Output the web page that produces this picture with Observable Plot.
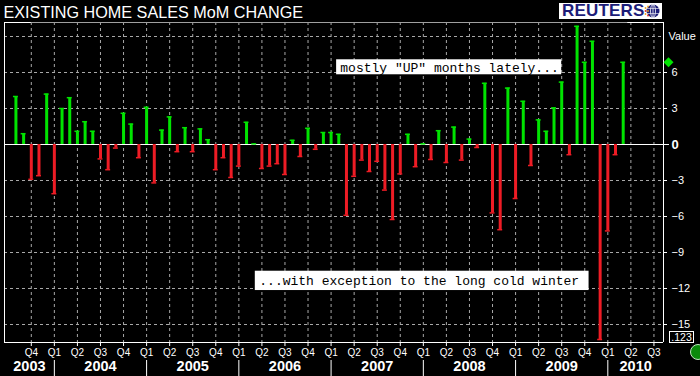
<!DOCTYPE html>
<html><head><meta charset="utf-8">
<script src="https://cdn.jsdelivr.net/npm/d3@7"></script>
<script src="https://cdn.jsdelivr.net/npm/@observablehq/plot@0.6"></script>
<style>
html,body{margin:0;padding:0;background:#000;}
#wrap{position:relative;width:700px;height:376px;overflow:hidden;background:#000;font-family:"Liberation Sans",Arial,sans-serif;}
#logo{position:absolute;left:559px;top:3px;width:103px;height:16px;background:#fff;}
#logo span{position:absolute;left:3px;top:-1px;font:bold 17px/18px "Liberation Sans",Arial,sans-serif;color:#1c1c78;letter-spacing:0.2px;}
#logo svg{position:absolute;left:85px;top:1px;}
#tag{position:absolute;left:669px;top:331px;width:23px;height:10px;border:1px solid #fff;color:#fff;font:10.5px/10px "Liberation Sans",Arial,sans-serif;text-align:center;}
#dot{position:absolute;left:690px;top:344px;width:14px;height:14px;border-radius:50%;background:#0b8a0b;border:1px solid #bfe8bf;}
</style></head><body><div id="wrap"></div>
<script>
const title = "EXISTING HOME SALES MoM CHANGE";
const firstMonth = "2003-08";
// month-on-month % change, Aug 2003 .. Mar 2010
const values = [
  4.0, 0.9, -2.9, -2.6, 4.2,
  -4.1, 3.0, 3.9, 1.1, 1.9, 1.1, -1.2, -2.1, -0.3, 2.6, 1.7, -1.1,
  3.1, -3.2, 1.2, 2.3, -0.6, 1.4, -0.6, 1.3, 0.4, -2.1, -1.1, -2.75,
  -1.8, 1.85, 0.05, -2.0, -1.8, -1.6, -2.5, 0.35, -1.0, 1.35, -0.4, 1.0,
  1.0, 0.85, -5.9, -2.65, -1.3, -2.25, -1.4, -3.8, -6.25, -2.45, 0.85, -1.85,
  0.05, -1.25, 1.15, -1.5, 1.45, -1.3, 0.45, -0.25, 5.1, -5.7, -7.1, 4.7,
  -4.5, 3.6, -1.75, 2.05, 1.1, 3.05, 5.2, -0.85, 9.85, 6.85, 8.6, -16.25,
  -7.2, -0.85, 6.85
];
const yTicks = [-15, -12, -9, -6, -3, 3, 6];
const zeroTick = [0];
const gridValues = [-15, -12, -9, -6, -3, 3, 6, 9];
const quarterNames = ["Q1", "Q2", "Q3", "Q4"];
const years = [2003, 2004, 2005, 2006, 2007, 2008, 2009, 2010];
const noteUp = ['mostly "UP" months lately...'];
const noteDown = ['...with exception to the long cold winter'];
const valueLabel = ["Value"];
const tagLabel = ".123";

const GREEN = "#00e400", RED = "#ee1c25";
const monthIndex = s => { const [y, m] = s.split("-").map(Number); return (y - 2003) * 12 + (m - 1); };
const start = monthIndex(firstMonth);
const data = values.map((v, k) => ({i: start + k, v}));
const up = data.filter(d => d.v >= 0), down = data.filter(d => d.v < 0);
const xDomain = [monthIndex("2003-07") - 0.486, monthIndex("2010-07") + 1.243];
const yDomain = [-16.5, 122 / 12];
const quarterTicks = d3.range(monthIndex("2003-10"), monthIndex("2010-07") + 1, 3);
const yearStarts = years.slice(1).map(y => (y - 2003) * 12);
const yearMid = y => (Math.max(xDomain[0], (y - 2003) * 12) + Math.min(xDomain[1], (y - 2002) * 12)) / 2;
const GRID = "#a8a8a8";
const MONO = "Liberation Mono, Courier New, monospace";

const plot = Plot.plot({
  width: 700, height: 376,
  marginLeft: 4, marginRight: 37, marginTop: 22, marginBottom: 34,
  style: {background: "#000", color: "#fff", fontFamily: "Liberation Sans, Arial, sans-serif"},
  x: {type: "linear", domain: xDomain, label: null},
  y: {domain: yDomain, label: null},
  marks: [
    Plot.gridX(quarterTicks, {stroke: GRID, strokeOpacity: 1, strokeDasharray: "3,3"}),
    Plot.gridY(gridValues, {stroke: GRID, strokeOpacity: 1, strokeDasharray: "3,3"}),
    Plot.ruleY([yDomain[1]], {stroke: "#a0a0a0"}),
    Plot.ruleY([yDomain[1]], {x1: xDomain[0], x2: quarterTicks[0], stroke: "#fff"}),
    Plot.ruleY([yDomain[1]], {x1: quarterTicks[quarterTicks.length - 2] - 0.4, x2: xDomain[1], stroke: "#fff"}),
    Plot.ruleY([yDomain[0]], {stroke: "#fff"}),
    Plot.ruleX([xDomain[0]], {stroke: "#fff"}),
    Plot.ruleX([xDomain[1]], {stroke: "#fff"}),
    Plot.ruleY([0], {stroke: "#fff"}),
    Plot.ruleX(up, {x: "i", y1: 0, y2: "v", stroke: GREEN, strokeWidth: 3}),
    Plot.ruleX(down, {x: "i", y1: 0, y2: "v", stroke: RED, strokeWidth: 3}),
    Plot.ruleY(up, {y: "v", x1: d => d.i - 0.32, x2: d => d.i + 0.32, stroke: GREEN, strokeWidth: 1.5}),
    Plot.ruleY(down, {y: "v", x1: d => d.i - 0.32, x2: d => d.i + 0.32, stroke: RED, strokeWidth: 1.5}),
    Plot.rect(noteUp, {x1: 48.72, x2: 78.0, y1: 7.06, y2: 5.81, fill: "#fff"}),
    Plot.text(noteUp, {x: 49.2, y: 6.42, text: d => d, textAnchor: "start", fill: "#000", fontSize: 13, fontFamily: MONO}),
    Plot.rect(noteDown, {x1: 38.14, x2: 81.56, y1: -10.56, y2: -12.17, fill: "#fff"}),
    Plot.text(noteDown, {x: 38.66, y: -11.36, text: d => d, textAnchor: "start", fill: "#000", fontSize: 13, fontFamily: MONO}),
    Plot.axisX(quarterTicks, {anchor: "bottom", tickSize: 4, tickPadding: 2, fontSize: 10, label: null,
      tickFormat: i => quarterNames[(i % 12) / 3]}),
    Plot.axisY(yTicks, {anchor: "right", tickSize: 3, tickPadding: 5, fontSize: 11, label: null}),
    Plot.axisY(zeroTick, {anchor: "right", tickSize: 5, tickPadding: 3, fontSize: 13, fontWeight: "bold", label: null}),
    Plot.text(valueLabel, {frameAnchor: "top-right", dx: 5, dy: 10, textAnchor: "start", fontSize: 11, fill: "#fff"}),
    Plot.dot(data.slice(-1), {y: "v", frameAnchor: "right", dx: 5, symbol: "diamond2", r: 4.5, fill: GREEN}),
    Plot.ruleX(yearStarts, {y1: -18, y2: -19.6, stroke: "#fff"}),
    Plot.text(years, {x: yearMid, frameAnchor: "bottom", dy: 28, text: d => String(d), fontSize: 14.5, fontWeight: "bold",
      fill: "#fff", ariaLabel: "years"}),
    Plot.text([title], {frameAnchor: "top-left", dx: -1, dy: -5, lineAnchor: "bottom", textAnchor: "start", fontSize: 16.2, fill: "#fff"})
  ]
});

// condense year labels like the reference's narrow bold face
plot.querySelectorAll('g[aria-label="years"] text').forEach(t => {
  t.setAttribute("textLength", 28);
  t.setAttribute("lengthAdjust", "spacingAndGlyphs");
});

const wrap = document.getElementById("wrap");
wrap.appendChild(plot);
const logo = document.createElement("div");
logo.id = "logo";
logo.innerHTML = '<span>REUTERS</span>' +
  '<svg width="16" height="14" viewBox="0 0 16 14">' +
  '<circle cx="9" cy="7" r="6.5" fill="#1c1c78"/>' +
  '<ellipse cx="9" cy="7" rx="2.5" ry="6.5" fill="none" stroke="#fff" stroke-width="0.8"/>' +
  '<line x1="9" y1="0.5" x2="9" y2="13.5" stroke="#fff" stroke-width="0.8"/>' +
  '<line x1="3" y1="4.5" x2="15" y2="4.5" stroke="#fff" stroke-width="0.6"/>' +
  '<line x1="3" y1="9.5" x2="15" y2="9.5" stroke="#fff" stroke-width="0.6"/>' +
  '<circle cx="1.5" cy="4" r="0.9" fill="#f0a020"/><circle cx="1.5" cy="7" r="0.9" fill="#e03020"/>' +
  '<circle cx="1.5" cy="10" r="0.9" fill="#f0a020"/><circle cx="4" cy="2.5" r="0.9" fill="#f0a020"/>' +
  '<circle cx="4" cy="7" r="0.9" fill="#f0a020"/><circle cx="4" cy="11.5" r="0.9" fill="#e03020"/>' +
  '</svg>';
wrap.appendChild(logo);
const tag = document.createElement("div");
tag.id = "tag"; tag.textContent = tagLabel;
wrap.appendChild(tag);
const dot = document.createElement("div");
dot.id = "dot";
wrap.appendChild(dot);
</script></body></html>
